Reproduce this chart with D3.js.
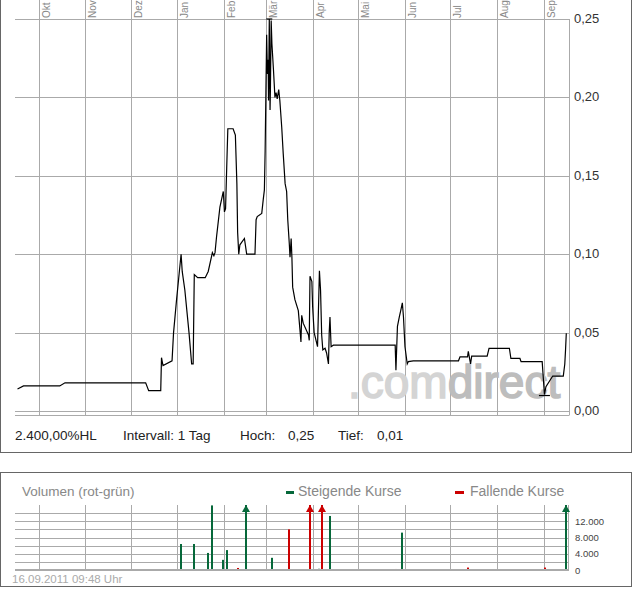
<!DOCTYPE html>
<html><head><meta charset="utf-8">
<script src="https://cdn.jsdelivr.net/npm/d3@7"></script>
<style>body{margin:0;background:#fff}svg{display:block;font-family:"Liberation Sans",Arial,sans-serif}</style>
</head><body><svg id="c" width="632" height="590"></svg>
<script>
const monthLabels = ["Okt","Nov","Dez","Jan","Feb","Mär","Apr","Mai","Jun","Jul","Aug","Sep"];
const priceTicks = [0, 0.05, 0.10, 0.15, 0.20, 0.25];
const volumeTickLabels = [0, 4000, 8000, 12000];
const volumeGrid = [2000, 4000, 6000, 8000, 10000, 12000, 14000];
const infoLabels = ["2.400,00%HL", "Intervall: 1 Tag", "Hoch:", "0,25", "Tief:", "0,01"];
const legendLabels = ["Volumen (rot-grün)", "Steigende Kurse", "Fallende Kurse"];
const timestamp = "16.09.2011 09:48 Uhr";

const priceDates = [
"2010-09-17 00","2010-09-21 00","2010-10-15 00","2010-10-18 12","2010-12-11 00","2010-12-13 00","2010-12-21 00","2010-12-21 12",
"2010-12-22 12","2010-12-28 12","2010-12-29 12","2010-12-31 12","2011-01-02 06","2011-01-03 12","2011-01-04 06","2011-01-06 00",
"2011-01-08 18","2011-01-10 12","2011-01-11 12","2011-01-12 06","2011-01-14 12","2011-01-19 12","2011-01-21 12","2011-01-24 06",
"2011-01-25 06","2011-01-26 00","2011-01-27 00","2011-01-29 06","2011-01-31 12","2011-02-01 06","2011-02-02 00","2011-02-02 18",
"2011-02-03 12","2011-02-07 00","2011-02-08 12","2011-02-09 12","2011-02-10 00","2011-02-10 18","2011-02-11 12","2011-02-14 12",
"2011-02-16 00","2011-02-21 12","2011-02-22 06","2011-02-23 00","2011-02-26 00","2011-02-27 00","2011-02-27 18","2011-02-28 06",
"2011-02-28 18","2011-03-01 06","2011-03-01 18","2011-03-02 06","2011-03-02 12","2011-03-03 00","2011-03-03 12","2011-03-03 18",
"2011-03-04 06","2011-03-04 18","2011-03-05 18","2011-03-06 18","2011-03-07 12","2011-03-08 06","2011-03-09 06","2011-03-10 00",
"2011-03-11 06","2011-03-12 06","2011-03-13 12","2011-03-14 12","2011-03-15 06","2011-03-16 06","2011-03-16 18","2011-03-17 12",
"2011-03-18 00","2011-03-18 12","2011-03-20 00","2011-03-22 06","2011-03-23 12","2011-03-24 00","2011-03-24 12","2011-03-25 12",
"2011-03-29 00","2011-03-29 12","2011-03-30 00","2011-03-31 06","2011-03-31 18","2011-04-01 18","2011-04-04 00","2011-04-05 06",
"2011-04-06 00","2011-04-06 18","2011-04-07 12","2011-04-09 00","2011-04-10 00","2011-04-11 06","2011-04-11 18","2011-04-12 06",
"2011-04-13 00","2011-04-14 12","2011-05-25 12","2011-05-26 00","2011-05-27 00","2011-05-28 06","2011-05-29 12","2011-05-30 06",
"2011-05-31 00","2011-06-01 00","2011-06-02 12","2011-06-03 06","2011-06-06 12","2011-07-06 12","2011-07-07 12","2011-07-12 12",
"2011-07-13 00","2011-07-14 12","2011-07-15 06","2011-07-25 12","2011-07-26 18","2011-08-09 06","2011-08-10 06","2011-08-16 06",
"2011-08-17 00","2011-08-31 00","2011-09-01 12","2011-09-02 12","2011-09-07 00","2011-09-14 00","2011-09-15 00","2011-09-15 12",
"2011-09-16 00"];
const priceValues = [
0.014,0.016,0.016,0.018,0.018,0.013,0.013,0.034,
0.029,0.032,0.050,0.071,0.088,0.100,0.089,0.077,
0.050,0.030,0.030,0.087,0.085,0.085,0.089,0.101,
0.099,0.101,0.111,0.130,0.140,0.127,0.129,0.155,
0.180,0.180,0.176,0.145,0.114,0.100,0.106,0.110,
0.100,0.100,0.122,0.124,0.126,0.135,0.141,0.166,
0.203,0.240,0.215,0.224,0.198,0.250,0.192,0.205,
0.249,0.234,0.218,0.200,0.203,0.199,0.205,0.198,
0.181,0.164,0.145,0.140,0.122,0.107,0.098,0.110,
0.098,0.079,0.071,0.064,0.050,0.044,0.061,0.056,
0.0485,0.045,0.086,0.0825,0.0665,0.050,0.041,0.0895,
0.077,0.0485,0.039,0.040,0.037,0.030,0.050,0.060,
0.041,0.042,0.042,0.026,0.054,0.060,0.0655,0.069,
0.060,0.041,0.030,0.0315,0.032,0.032,0.0345,0.0345,
0.038,0.030,0.035,0.035,0.040,0.040,0.0335,0.0335,
0.0315,0.0315,0.0105,0.0155,0.0223,0.0223,0.030,0.039,
0.0496];

const volumeDates = ["2011-01-03 18","2011-01-11 12","2011-01-12 06","2011-01-21 12","2011-01-24 06","2011-01-31 12","2011-02-03 06",
"2011-02-10 12","2011-02-15 12","2011-03-04 12","2011-03-16 06","2011-03-30 06","2011-04-05 06","2011-04-06 18","2011-04-12 12",
"2011-05-26 06","2011-05-30 06","2011-07-13 00","2011-09-02 00","2011-09-15 18"];
const volumeValues = [6400,150,6400,4200,15900,2500,4900,500,24000,3000,10000,21000,300,19000,13300,250,9200,600,600,26000];
const volumeRising = [true,false,true,true,true,true,true,false,true,true,false,false,true,false,true,false,true,false,false,true];

const GREEN = "#06683a", RED = "#cc0000", GRID = "#aaaaaa";
const parse = d3.utcParse("%Y-%m-%d %H");
const de = d3.formatLocale({decimal: ",", thousands: ".", grouping: [3], currency: ["", "€"]});
const fPrice = de.format(",.2f"), fVol = de.format(",.0f");

const svg = d3.select("#c");
const x = d3.scaleUtc().domain([parse("2010-09-15 08"), parse("2011-09-17 19")]).range([15, 569]);
const y = d3.scaleLinear().domain([0, 0.25]).range([411, 19]);
const yv = d3.scaleLinear().domain([0, 16000]).range([570, 505]);
const px = v => Math.round(v) + 0.5;
const months = d3.utcMonth.range(x.domain()[0], x.domain()[1]);

// frames
svg.append("rect").attr("x", 0.5).attr("y", -1).attr("width", 631).attr("height", 453.5)
  .attr("fill", "none").attr("stroke", "#666");
svg.append("rect").attr("x", 0.5).attr("y", 472.5).attr("width", 631).attr("height", 114)
  .attr("fill", "none").attr("stroke", "#666");

// ---- price panel ----
const g = svg.append("g");
g.selectAll("line.v").data(months).join("line")
  .attr("x1", d => px(x(d))).attr("x2", d => px(x(d))).attr("y1", 0).attr("y2", 415)
  .attr("stroke", GRID);
g.selectAll("line.h").data(priceTicks).join("line")
  .attr("x1", 15).attr("x2", 569).attr("y1", d => px(y(d))).attr("y2", d => px(y(d)))
  .attr("stroke", GRID);
g.append("line").attr("x1", 15).attr("x2", 569).attr("y1", 415.5).attr("y2", 415.5).attr("stroke", GRID);
g.append("line").attr("x1", 569.5).attr("x2", 569.5).attr("y1", y(0.25)).attr("y2", 415.5).attr("stroke", GRID);

g.selectAll("text.m").data(months).join("text")
  .attr("transform", d => `translate(${px(x(d)) + 10},18) rotate(-90)`)
  .attr("font-size", 10).attr("fill", "#888")
  .text((d, i) => monthLabels[i]);

g.selectAll("text.y").data(priceTicks).join("text")
  .attr("x", 574).attr("y", d => y(d) + 4).attr("font-size", 13).attr("fill", "#333")
  .text(d => fPrice(d));

// watermark
const wm = g.append("text").attr("x", 348).attr("y", 398).attr("font-size", 46)
  .attr("stroke-width", 1.6);
wm.append("tspan").text(".com").attr("fill", "#d4d4d4").attr("stroke", "#d4d4d4");
wm.append("tspan").text("direct").attr("fill", "#bdbdbd").attr("stroke", "#bdbdbd");

// price line
const pts = priceDates.map((d, i) => ({date: parse(d), value: priceValues[i]}));
g.append("path").datum(pts)
  .attr("d", d3.line().x(d => x(d.date)).y(d => y(d.value)))
  .attr("fill", "none").attr("stroke", "#000").attr("stroke-width", 1.2);

// high / low markers
const hi = pts.reduce((a, b) => b.value > a.value ? b : a);
const lo = pts.reduce((a, b) => b.value < a.value ? b : a);
g.append("line").attr("x1", x(hi.date) - 3).attr("x2", x(hi.date) + 3)
  .attr("y1", y(hi.value)).attr("y2", y(hi.value)).attr("stroke", "#000").attr("stroke-width", 1.2);
g.append("line").attr("x1", x(lo.date) - 5.5).attr("x2", x(lo.date) + 5.5)
  .attr("y1", y(lo.value) + 1).attr("y2", y(lo.value) + 1).attr("stroke", "#000").attr("stroke-width", 1.2);

// info row
const infoX = [15, 123, 240, 288, 338, 377];
svg.selectAll("text.info").data(infoLabels).join("text")
  .attr("x", (d, i) => infoX[i]).attr("y", 440).attr("font-size", 13.5).attr("fill", "#222")
  .text(d => d);

// ---- volume panel ----
const gv = svg.append("g");
gv.append("text").attr("x", 22).attr("y", 496).attr("font-size", 13.5).attr("fill", "#888").text(legendLabels[0]);
gv.append("rect").attr("x", 286).attr("y", 491).attr("width", 8).attr("height", 3).attr("fill", GREEN);
gv.append("text").attr("x", 298).attr("y", 496).attr("font-size", 14).attr("fill", "#888").text(legendLabels[1]);
gv.append("rect").attr("x", 455).attr("y", 491).attr("width", 9).attr("height", 3).attr("fill", RED);
gv.append("text").attr("x", 470).attr("y", 496).attr("font-size", 14).attr("fill", "#888").text(legendLabels[2]);

gv.selectAll("line.v").data(months).join("line")
  .attr("x1", d => px(x(d))).attr("x2", d => px(x(d))).attr("y1", 505).attr("y2", 570)
  .attr("stroke", GRID);
gv.selectAll("line.h").data(volumeGrid).join("line")
  .attr("x1", 15).attr("x2", 568).attr("y1", d => px(yv(d))).attr("y2", d => px(yv(d)))
  .attr("stroke", GRID);
gv.append("line").attr("x1", 568.5).attr("x2", 568.5).attr("y1", 505).attr("y2", 570).attr("stroke", GRID);

const vols = volumeDates.map((d, i) => ({date: parse(d), value: volumeValues[i], up: volumeRising[i]}));
const maxV = yv.domain()[1];
gv.selectAll("rect.bar").data(vols).join("rect")
  .attr("x", d => Math.round(x(d.date)) - 1).attr("width", 2)
  .attr("y", d => yv(Math.min(d.value, maxV))).attr("height", d => yv(0) - yv(Math.min(d.value, maxV)))
  .attr("fill", d => d.up ? GREEN : RED);
gv.selectAll("path.arr").data(vols.filter(d => d.value > maxV)).join("path")
  .attr("d", d => { const cx = Math.round(x(d.date)); return `M${cx-4},512L${cx},505L${cx+4},512Z`; })
  .attr("fill", d => d.up ? GREEN : RED);

gv.append("line").attr("x1", 15).attr("x2", 569).attr("y1", 570).attr("y2", 570)
  .attr("stroke", GRID).attr("stroke-width", 2);

gv.selectAll("text.vy").data(volumeTickLabels).join("text")
  .attr("x", 575).attr("y", d => yv(d) + 3.5).attr("font-size", 9.5).attr("fill", "#444")
  .text(d => fVol(d));

svg.append("text").attr("x", 12).attr("y", 583).attr("font-size", 11.5).attr("fill", "#aaa").text(timestamp);
</script></body></html>
